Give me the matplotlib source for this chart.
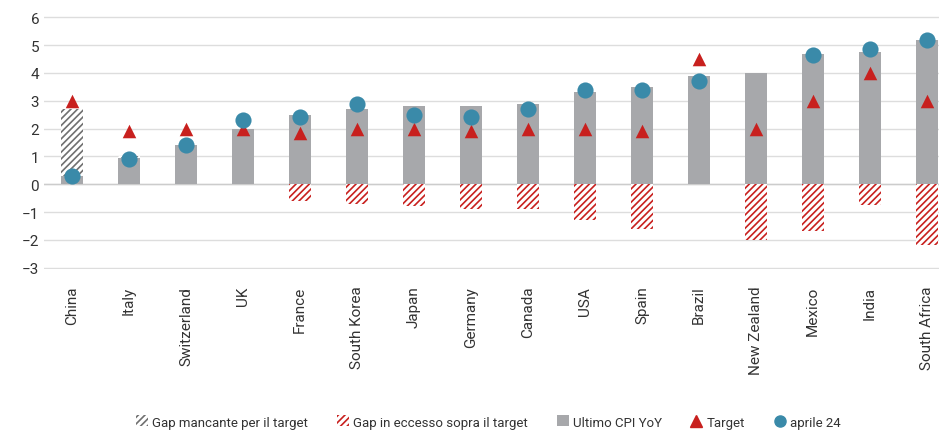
import numpy as np
import matplotlib
matplotlib.use("Agg")
import matplotlib.pyplot as plt
from matplotlib.patches import Patch
from matplotlib.lines import Line2D

countries = ["China", "Italy", "Switzerland", "UK", "France", "South Korea", "Japan",
             "Germany", "Canada", "USA", "Spain", "Brazil", "New Zealand", "Mexico",
             "India", "South Africa"]
cpi = [0.3, 0.95, 1.4, 2.0, 2.5, 2.7, 2.8, 2.8, 2.9, 3.3, 3.5, 3.9, 4.0, 4.7, 4.75, 5.2]
target = [3.0, 1.9, 2.0, 2.0, 1.85, 2.0, 2.0, 1.9, 2.0, 2.0, 1.9, 4.5, 2.0, 3.0, 4.0, 3.0]
apr24 = [0.3, 0.9, 1.4, 2.3, 2.4, 2.9, 2.5, 2.4, 2.7, 3.4, 3.4, 3.7, np.nan, 4.65, 4.85, 5.2]
gap_short = [2.7, 1.0, 0.6, 0, 0, 0, 0, 0, 0, 0, 0, 0.6, 0, 0, 0, 0]
gap_excess = [0, 0, 0, 0, -0.6, -0.7, -0.8, -0.9, -0.9, -1.3, -1.6, 0, -2.0, -1.7, -0.75, -2.2]

grey = "#a7a8ab"
red = "#c8201e"
blue = "#3a8aa9"

plt.rcParams["font.family"] = ["Roboto", "DejaVu Sans"]
plt.rcParams["hatch.linewidth"] = 1.2

fig = plt.figure(figsize=(9.39, 4.31), dpi=100)
ax = fig.add_axes([44 / 939, 1 - 270 / 431, 1 - 44 / 939, 253 / 431])

x = np.arange(len(countries))
w = 0.4
ax.bar(x, gap_short, width=w, color="white", edgecolor="#707070", hatch="/////", lw=0, zorder=2)
ax.bar(x, cpi, width=w, color=grey, lw=0, zorder=3)
ax.bar(x, gap_excess, width=w, color="white", edgecolor=red, hatch="/////", lw=0, zorder=3)
ax.scatter(x, target, marker="^", s=95, color=red, zorder=4, lw=0)
ax.scatter(x, apr24, marker="o", s=135, color=blue, zorder=5, lw=0)

ax.set_ylim(-3.05, 6.05)
ax.set_yticks(range(-3, 7))
ax.set_xlim(-0.49, 15.21)
ax.set_xticks(x)
ax.set_xticklabels(countries, rotation=90, fontsize=11, color="#222222")
ax.tick_params(axis="both", length=0, labelsize=11, colors="#333333")
ax.tick_params(axis="x", pad=12)
ax.yaxis.grid(True, color="#dddddd", lw=1)
ax.set_axisbelow(True)
ax.axhline(0, color="#cccccc", lw=1, zorder=1)
for s in ax.spines.values():
    s.set_visible(False)

handles = [
    Patch(facecolor="white", edgecolor="#707070", hatch="/////", lw=0),
    Patch(facecolor="white", edgecolor=red, hatch="/////", lw=0),
    Patch(facecolor=grey, lw=0),
    Line2D([], [], marker="^", color=red, ls="none", markersize=8),
    Line2D([], [], marker="o", color=blue, ls="none", markersize=8),
]
labels = ["Gap mancante per il target", "Gap in eccesso sopra il target",
          "Ultimo CPI YoY", "Target", "aprile 24"]
fig.legend(handles, labels, loc="center", bbox_to_anchor=(0.52, 1 - 423 / 431), ncol=5,
           frameon=False, fontsize=9.5, handlelength=0.9, handleheight=0.9,
           handletextpad=0.3, columnspacing=2.2, labelcolor="#333333")

fig.savefig("out.png", dpi=100)
